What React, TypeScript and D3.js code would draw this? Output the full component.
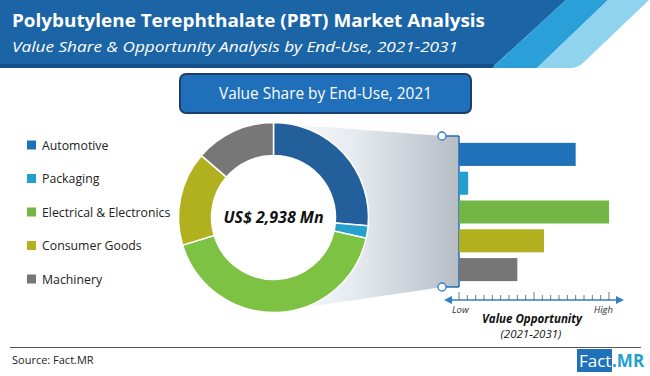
import React from "react";
import * as d3 from "d3";

const categories = ["Automotive", "Packaging", "Electrical & Electronics", "Consumer Goods", "Machinery"];
const shareValues = [26.4, 2.1, 41.8, 16.0, 13.7];
const opportunityValues = [14, 1.1, 18, 10.2, 7];
const axisTicks = d3.range(0, 19);
const majorTicks = [0, 9, 18];
const totalLabel = "US$ 2,938 Mn";

const donutColors = ["#235f9a", "#27a2cf", "#7dc242", "#b1b11f", "#777777"];
const barColors = ["#1f72ba", "#23a0d0", "#74b646", "#b2b01e", "#767676"];

const W = 650;
const H = 376;
const FONT = "'Open Sans', 'Noto Sans', sans-serif";

export default function App() {
  const cx = 273.5;
  const cy = 217.5;
  const pie = d3.pie<number>().sort(null).value((d) => d).startAngle(0).endAngle(Math.PI * 2);
  const arc = d3.arc<d3.PieArcDatum<number>>().innerRadius(62).outerRadius(95);
  const arcs = pie(shareValues);

  const x = d3.scaleLinear().domain([0, 18]).range([459, 609]);
  const y = d3.scaleBand<string>().domain(categories).range([140, 284]).paddingInner(0.2).paddingOuter(0.1);

  const legendY = d3.scalePoint<string>().domain(categories).range([145, 279]);

  const axisY = 300;

  return (
    <svg width={W} height={H} style={{ position: "absolute", left: 0, top: 0, display: "block" }} fontFamily={FONT}>
      <defs>
        <linearGradient id="fan" x1="273" x2="459" y1="0" y2="0" gradientUnits="userSpaceOnUse">
          <stop offset="0" stopColor="#ffffff" />
          <stop offset="0.45" stopColor="#e5eaef" />
          <stop offset="1" stopColor="#b6bdc5" />
        </linearGradient>
      </defs>
      <rect x={0} y={0} width={W} height={H} fill="#ffffff" />

      {/* Header */}
      <polygon points="0,0 566,0 494,66 0,66" fill="#1b64a6" />
      <rect x={0} y={64} width={494} height={4} fill="#154f87" />
      <polygon points="566,0 608,0 537,68 492,68" fill="#2a9fd8" />
      <path d="M608,0 L649,0 L584,62 Q578,68 570,68 L537,68 Z" fill="#8fd3ef" />
      <text x={12} y={27} fill="#ffffff" fontSize={17.5} fontWeight={700} textLength={473} lengthAdjust="spacingAndGlyphs">
        Polybutylene Terephthalate (PBT) Market Analysis
      </text>
      <text x={12} y={52} fill="#ffffff" fontSize={14} fontStyle="italic" textLength={446} lengthAdjust="spacingAndGlyphs">
        Value Share &amp; Opportunity Analysis by End-Use, 2021-2031
      </text>

      {/* Title box */}
      <rect x={180} y={74} width={291} height={39} rx={6} fill="#1f6fba" stroke="#1b3f66" strokeWidth={2} />
      <text x={325.5} y={99} fill="#ffffff" fontSize={15.5} textAnchor="middle" textLength={213} lengthAdjust="spacingAndGlyphs">
        Value Share by End-Use, 2021
      </text>

      {/* Fan gradient */}
      <polygon points={`${cx},123 443,136 459,136 459,287 443,287 ${cx},312`} fill="url(#fan)" />

      {/* Donut */}
      <g transform={`translate(${cx},${cy})`}>
        {arcs.map((a, i) => (
          <path key={categories[i]} d={arc(a) || ""} fill={donutColors[i]} stroke="#ffffff" strokeWidth={1.5} />
        ))}
        <circle r={62} fill="#ffffff" />
        <text x={0} y={5.5} textAnchor="middle" fontSize={16} fontWeight={700} fontStyle="italic" fill="#111111">
          {totalLabel}
        </text>
      </g>

      {/* Legend */}
      {categories.map((c, i) => (
        <g key={c} transform={`translate(0,${legendY(c)})`}>
          <rect x={27} y={-4.5} width={9} height={9} fill={barColors[i]} />
          <text x={42} y={4.5} fontSize={12.3} fill="#222222">
            {c}
          </text>
        </g>
      ))}

      {/* Bracket */}
      <line x1={459} x2={459} y1={136} y2={287} stroke="#1f6fba" strokeWidth={1.5} />
      <line x1={446} x2={459} y1={136} y2={136} stroke="#1f6fba" strokeWidth={1.5} />
      <line x1={446} x2={459} y1={287} y2={287} stroke="#1f6fba" strokeWidth={1.5} />
      <circle cx={442} cy={136} r={4} fill="#ffffff" stroke="#2f7fc1" strokeWidth={1.3} />
      <circle cx={442} cy={287} r={4} fill="#ffffff" stroke="#2f7fc1" strokeWidth={1.3} />

      {/* Bars */}
      {categories.map((c, i) => (
        <rect key={c} x={x(0)} y={y(c)} width={x(opportunityValues[i]) - x(0)} height={y.bandwidth()} fill={barColors[i]} />
      ))}

      {/* Axis */}
      <line x1={448} x2={619} y1={axisY} y2={axisY} stroke="#2f7fc1" strokeWidth={1.5} />
      <polygon points={`444,${axisY} 452,${axisY - 4} 452,${axisY + 4}`} fill="#2f7fc1" />
      <polygon points={`624,${axisY} 616,${axisY - 4} 616,${axisY + 4}`} fill="#2f7fc1" />
      {axisTicks.map((t) => (
        <line
          key={t}
          x1={x(t)}
          x2={x(t)}
          y1={majorTicks.includes(t) ? axisY - 8 : axisY - 5}
          y2={axisY}
          stroke="#555555"
          strokeWidth={0.8}
        />
      ))}
      <text x={452} y={313} fontSize={9.5} fontStyle="italic" fill="#333333">Low</text>
      <text x={613} y={313} fontSize={9.5} fontStyle="italic" fill="#333333" textAnchor="end">High</text>
      <text x={532} y={323} fontSize={12} fontWeight={700} fontStyle="italic" fill="#111111" textAnchor="middle" textLength={100} lengthAdjust="spacingAndGlyphs">
        Value Opportunity
      </text>
      <text x={531} y={338} fontSize={11.5} fontStyle="italic" fill="#111111" textAnchor="middle">
        (2021-2031)
      </text>

      {/* Footer */}
      <line x1={10} x2={641} y1={347.5} y2={347.5} stroke="#555555" strokeWidth={1} />
      <text x={12} y={364} fontSize={11} fill="#222222">Source: Fact.MR</text>
      <rect x={577} y={349} width={35} height={23} fill="#1f72ba" />
      <text x={579} y={367} fontSize={17} fill="#ffffff">Fact</text>
      <text x={612} y={367} fontSize={17} fontWeight={700} fill="#23a0d0">.MR</text>
    </svg>
  );
}
